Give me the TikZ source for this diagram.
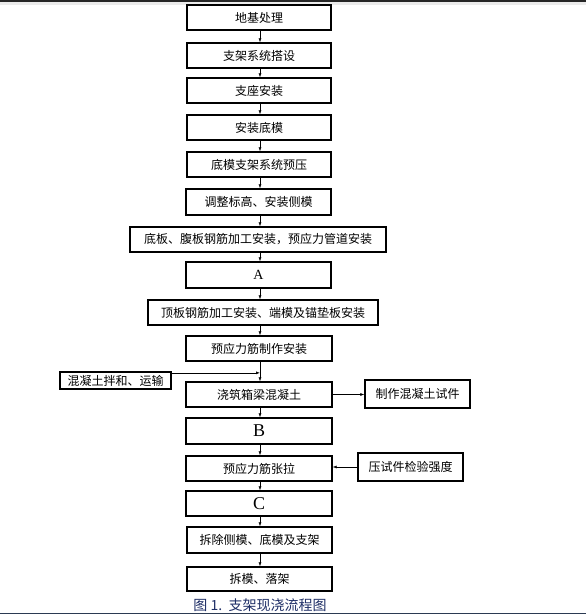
\documentclass[tikz,border=0pt]{standalone}
\usepackage{fontspec}
\setmainfont{Liberation Serif}
\newfontfamily\cjk{Noto Sans CJK SC}
\usetikzlibrary{arrows.meta,positioning}
\definecolor{capblue}{HTML}{1E2E66}
\definecolor{edgeline}{HTML}{2B3A52}
\tikzset{
  box/.style={draw=black, line width=1.3pt, inner sep=0pt, font=\cjk\fontsize{12}{12}\selectfont, text=black},
  letterbox/.style={box, font=\fontsize{18}{18}\selectfont},
  arr/.style={line width=0.6pt, -{Latex[length=4pt,width=3pt]}},
}
\newcommand{\bx}[6]{% name, x1, x2, y1, y2, text
  \node[box, minimum width={(#3-#2)*1pt}, minimum height={(#5-#4)*1pt}] (#1) at ({(#2+#3)/2},{(#4+#5)/2}) {#6};}
\begin{document}
\begin{tikzpicture}[x=1pt,y=-1pt]
\useasboundingbox (0,0) rectangle (586,615);
\fill[white] (0,0) rectangle (586,615);
% frame lines
\fill[black!8] (0,2) rectangle (586,5.5);
\draw[line width=1.6pt, black!85] (0,1.3) -- (586,1.3);
\draw[line width=1.6pt, edgeline] (0,613.5) -- (586,613.5);
\coordinate (axis) at (260,0);
% boxes
\bx{b1}{187}{331}{5}{30}{地基处理}
\bx{b2}{187}{331}{43}{68}{支架系统搭设}
\bx{b3}{187}{331}{78}{103}{支座安装}
\bx{b4}{187}{331}{115}{140}{安装底模}
\bx{b5}{187}{331}{152}{177}{底模支架系统预压}
\bx{b6}{186}{331}{189}{215}{调整标高、安装侧模}
\bx{b7}{130}{386}{227}{252}{底板、腹板钢筋加工安装，预应力管道安装}
\node[box, font=\fontsize{14}{14}\selectfont, minimum width=145pt, minimum height=26pt] (bA) at (258.5,275) {A};
\bx{b9}{148}{378}{300}{325}{顶板钢筋加工安装、端模及锚垫板安装}
\bx{b10}{186}{332}{336}{361}{预应力筋制作安装}
\bx{mix}{60}{171}{372}{389}{混凝土拌和、运输}
\bx{pour}{186}{332}{382}{407}{浇筑箱梁混凝土}
\bx{sample}{365}{470}{380}{408}{制作混凝土试件}
\node[letterbox, minimum width=146pt, minimum height=26pt] (bB) at (259,431) {B};
\bx{tension}{186}{332}{456}{481}{预应力筋张拉}
\bx{test}{358}{463}{453}{481}{压试件检验强度}
\node[letterbox, minimum width=146pt, minimum height=25pt] (bC) at (259,503.5) {C};
\bx{rm}{187}{332}{527}{553}{拆除侧模、底模及支架}
\bx{last}{187}{332}{567}{591}{拆模、落架}
% vertical arrows
\foreach \a/\b in {b1/b2,b2/b3,b3/b4,b4/b5,b5/b6,b6/b7,b7/bA,bA/b9,b9/b10,b10/pour,pour/bB,bB/tension,tension/bC,bC/rm,rm/last}
  \draw[arr] (\a.south -| axis) -- (\b.north -| axis);
% side arrows
\draw[arr] ([yshift=-1.5pt]mix.north east) -- ([yshift=-1.5pt]mix.north east -| axis);
\draw[arr] (pour.east) -- (pour.east -| sample.west);
\draw[arr] (test.west) -- (test.west -| tension.east);
% caption
\node[font=\cjk\fontsize{14}{14}\selectfont, text=capblue, inner sep=0pt, anchor=south] (cap) at (260,611.5) {图 1.\ \ 支架现浇流程图};
\end{tikzpicture}
\end{document}
